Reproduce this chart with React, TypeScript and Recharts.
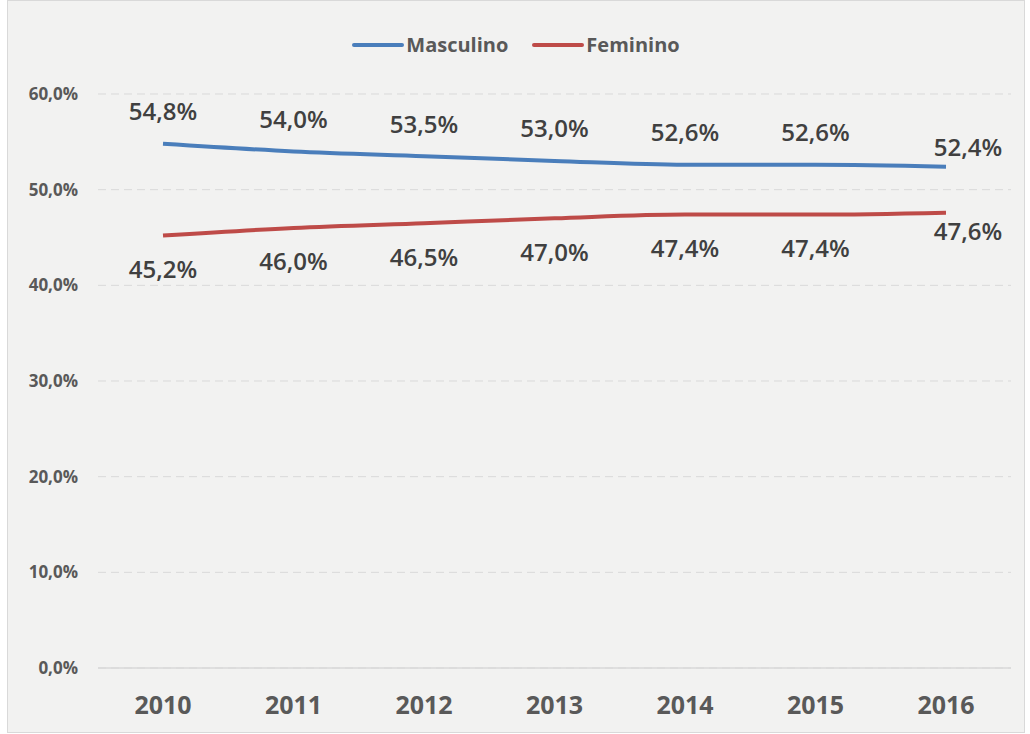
import { CartesianGrid, Legend, Line, LineChart, XAxis, YAxis } from "recharts";

const years = ["2010", "2011", "2012", "2013", "2014", "2015", "2016"];
const masculino = [54.8, 54.0, 53.5, 53.0, 52.6, 52.6, 52.4];
const feminino = [45.2, 46.0, 46.5, 47.0, 47.4, 47.4, 47.6];
const yTicks = [0, 10, 20, 30, 40, 50, 60];

const data = years.map((year, i) => ({
  year,
  masculino: masculino[i],
  feminino: feminino[i],
}));

const BLUE = "#4a7ebb";
const RED = "#be4b48";
const FONT = "'Open Sans', 'Liberation Sans', sans-serif";

const fmt = (v: number, digits = 1) => v.toFixed(digits).replace(".", ",") + "%";

function makeLabel(position: "above" | "below") {
  return (props: any) => {
    const { x, y, value, index } = props;
    const last = index === years.length - 1;
    const dy = position === "above" ? -33 : 33;
    const dx = last ? 22 : 0;
    const adj = last ? (position === "above" ? 13 : -15) : 0;
    return (
      <text
        x={x + dx}
        y={y + dy + adj}
        textAnchor="middle"
        dominantBaseline="central"
        fontFamily={FONT}
        fontSize={24}
        fontWeight={600}
        fill="#404040"
      >
        {fmt(value)}
      </text>
    );
  };
}

function LegendContent() {
  const items = [
    { name: "Masculino", color: BLUE },
    { name: "Feminino", color: RED },
  ];
  return (
    <div style={{ display: "flex", justifyContent: "center", gap: 24 }}>
      {items.map((it) => (
        <div key={it.name} style={{ display: "flex", alignItems: "center" }}>
          <div style={{ width: 52, height: 4, background: it.color, borderRadius: 2 }} />
          <span
            style={{
              fontFamily: FONT,
              fontWeight: 700,
              fontSize: 20,
              color: "#595959",
              marginLeft: 2,
            }}
          >
            {it.name}
          </span>
        </div>
      ))}
    </div>
  );
}

export default function App() {
  return (
    <div
      style={{
        position: "absolute",
        left: 7,
        top: 0,
        width: 1018,
        height: 733,
        background: "#f2f2f1",
        border: "1px solid #d9d9d9",
        boxSizing: "border-box",
      }}
    >
      <LineChart
        width={1016}
        height={731}
        data={data}
        margin={{ top: 93, right: 13, bottom: 14, left: 0 }}
      >
        <CartesianGrid vertical={false} stroke="#d9d9d9" strokeDasharray="8 5" />
        <XAxis
          dataKey="year"
          padding={{ left: 65, right: 65 }}
          axisLine={{ stroke: "#d9d9d9", strokeWidth: 1.5 }}
          tickLine={false}
          tickMargin={22}
          height={50}
          tick={{ fontFamily: FONT, fontSize: 25, fontWeight: 700, fill: "#595959" }}
        />
        <YAxis
          domain={[0, 60]}
          ticks={yTicks}
          width={90}
          axisLine={false}
          tickLine={false}
          tickMargin={14}
          tickFormatter={(v: number) => fmt(v)}
          tick={{ fontFamily: FONT, fontSize: 17, fontWeight: 700, fill: "#595959" }}
        />
        <Legend
          verticalAlign="middle"
          align="center"
          content={<LegendContent />}
          wrapperStyle={{ top: 30, left: 0, width: 1016 }}
        />
        <Line
          type="monotone"
          dataKey="masculino"
          name="Masculino"
          stroke={BLUE}
          strokeWidth={4}
          dot={false}
          label={makeLabel("above")}
          isAnimationActive={false}
        />
        <Line
          type="monotone"
          dataKey="feminino"
          name="Feminino"
          stroke={RED}
          strokeWidth={4}
          dot={false}
          label={makeLabel("below")}
          isAnimationActive={false}
        />
      </LineChart>
    </div>
  );
}
